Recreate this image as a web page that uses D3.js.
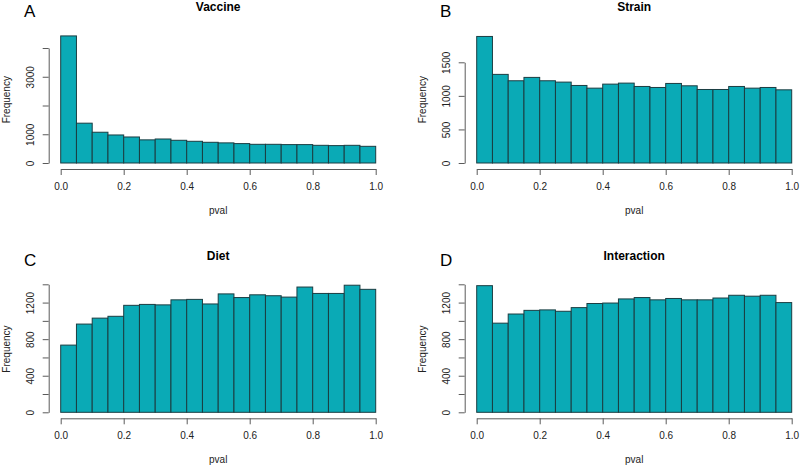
<!DOCTYPE html>
<html>
<head>
<meta charset="utf-8">
<script src="https://cdn.jsdelivr.net/npm/d3@7"></script>
<style>
  body { margin: 0; background: #fff; }
  svg { display: block; font-family: "Liberation Sans", Arial, sans-serif; }
</style>
</head>
<body>
<svg width="800" height="468"></svg>
<script>
// histogram bin edges (pval)
var breaks = [0, 0.05, 0.1, 0.15, 0.2, 0.25, 0.3, 0.35, 0.4, 0.45, 0.5,
              0.55, 0.6, 0.65, 0.7, 0.75, 0.8, 0.85, 0.9, 0.95, 1.0];

// counts per bin
var vaccine = [4420, 1385, 1070, 975, 905, 805, 835, 790, 755, 720,
               700, 675, 650, 650, 640, 640, 615, 605, 615, 580];
var strain = [1885, 1320, 1225, 1275, 1225, 1205, 1155, 1115, 1175, 1190,
              1140, 1125, 1185, 1150, 1095, 1095, 1140, 1115, 1125, 1090];
var diet = [735, 965, 1030, 1050, 1170, 1180, 1175, 1230, 1235, 1185,
            1295, 1255, 1285, 1275, 1260, 1370, 1300, 1300, 1390, 1345];
var interaction = [1385, 975, 1075, 1115, 1120, 1105, 1145, 1190, 1195, 1240,
                   1255, 1230, 1245, 1230, 1230, 1250, 1280, 1270, 1280, 1200];

var xTicks = [0, 0.2, 0.4, 0.6, 0.8, 1.0];
var vaccineTicks = [0, 1000, 2000, 3000, 4000];
var vaccineLabels = [0, 1000, 3000];
var strainTicks = [0, 500, 1000, 1500];
var strainLabels = [0, 500, 1000, 1500];
var dietTicks = [0, 200, 400, 600, 800, 1000, 1200, 1400];
var dietLabels = [0, 400, 800, 1200];

var titles = ["Vaccine", "Strain", "Diet", "Interaction"];
var letters = ["A", "B", "C", "D"];

var panels = [
  { title: titles[0], letter: letters[0], counts: vaccine, ticks: vaccineTicks, labels: vaccineLabels, col: 0, row: 0, topPx: 48 },
  { title: titles[1], letter: letters[1], counts: strain, ticks: strainTicks, labels: strainLabels, col: 1, row: 0, topPx: 62.3 },
  { title: titles[2], letter: letters[2], counts: diet, ticks: dietTicks, labels: dietLabels, col: 0, row: 1, topPx: 35 },
  { title: titles[3], letter: letters[3], counts: interaction, ticks: dietTicks, labels: dietLabels, col: 1, row: 1, topPx: 35 }
];

var svg = d3.select("svg");
var fillCol = "#0aaab6";
var edgeCol = "#1b3d42";
var axisCol = "#5a5a5a";
var textCol = "#222";

panels.forEach(function(p) {
  var dx = p.col * 416;
  var dy = p.row * 249.3;
  var g = svg.append("g").attr("transform", "translate(" + dx + "," + dy + ")");

  var x0 = 60.7, x1 = 375.7, base = 163;
  var x = d3.scaleLinear().domain([0, 1]).range([x0, x1]);
  var y = d3.scaleLinear()
    .domain([0, p.ticks[p.ticks.length - 1]])
    .range([base, p.topPx]);

  // bars
  g.selectAll("rect")
    .data(p.counts)
    .enter()
    .append("rect")
    .attr("x", function(d, i) { return x(breaks[i]); })
    .attr("width", function(d, i) { return x(breaks[i + 1]) - x(breaks[i]); })
    .attr("y", function(d) { return y(d); })
    .attr("height", function(d) { return base - y(d); })
    .attr("fill", fillCol)
    .attr("stroke", edgeCol)
    .attr("stroke-width", 1);

  // x axis
  var xa = g.append("g")
    .attr("transform", "translate(0,169)")
    .call(d3.axisBottom(x).tickValues(xTicks).tickSize(6).tickSizeOuter(0)
      .tickFormat(d3.format(".1f")));
  xa.selectAll("path, line").attr("stroke", axisCol);
  xa.selectAll("text")
    .attr("y", 21).attr("dy", 0)
    .attr("fill", textCol)
    .style("font-size", "10px")
    .style("font-family", "Liberation Sans, Arial, sans-serif");

  // y axis
  var ya = g.append("g")
    .attr("transform", "translate(48.7,0)")
    .call(d3.axisLeft(y).tickValues(p.ticks).tickSize(6).tickSizeOuter(0)
      .tickFormat(function(d) { return p.labels.indexOf(d) >= 0 ? d : ""; }));
  ya.selectAll("path, line").attr("stroke", axisCol);
  ya.selectAll("text")
    .attr("transform", "rotate(-90)")
    .attr("x", 0).attr("y", -15).attr("dy", 0)
    .attr("text-anchor", "middle")
    .attr("fill", textCol)
    .style("font-size", "10px")
    .style("font-family", "Liberation Sans, Arial, sans-serif");

  // axis titles
  g.append("text")
    .attr("x", (x0 + x1) / 2).attr("y", 214)
    .attr("text-anchor", "middle")
    .attr("fill", textCol)
    .style("font-size", "10px")
    .text("pval");

  g.append("text")
    .attr("transform", "translate(10,99.7) rotate(-90)")
    .attr("text-anchor", "middle")
    .attr("fill", textCol)
    .style("font-size", "10px")
    .text("Frequency");

  // main title
  g.append("text")
    .attr("x", (x0 + x1) / 2).attr("y", 11)
    .attr("text-anchor", "middle")
    .attr("fill", "#000")
    .style("font-size", "12px")
    .style("font-weight", "bold")
    .text(p.title);

  // panel letter
  g.append("text")
    .attr("x", 24).attr("y", 16.7)
    .attr("fill", "#000")
    .style("font-size", "17px")
    .text(p.letter);
});
</script>
</body>
</html>
